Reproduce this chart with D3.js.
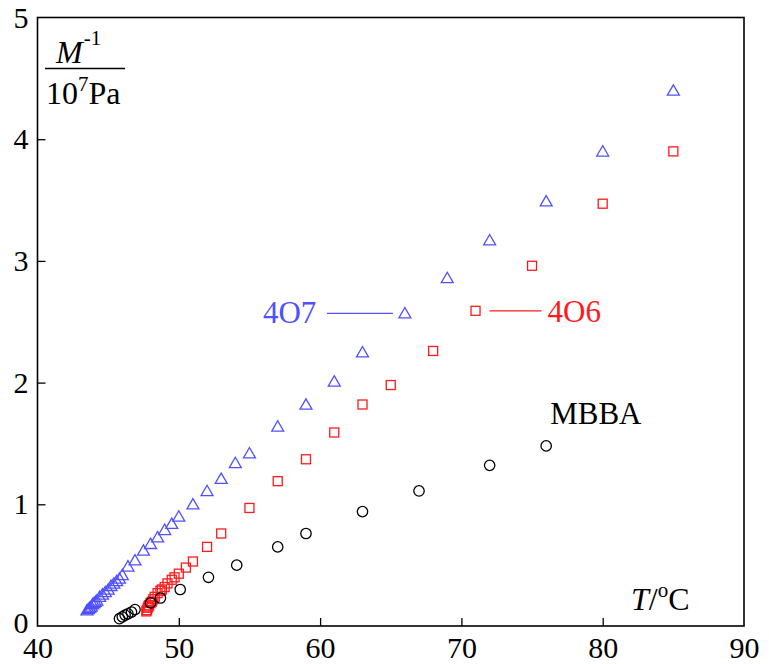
<!DOCTYPE html>
<html>
<head>
<meta charset="utf-8">
<script src="https://cdn.jsdelivr.net/npm/d3@7"></script>
<style>
  html, body { margin: 0; padding: 0; background: #fff; }
  svg { display: block; }
  svg text { font-family: "Liberation Serif", Tinos, "Times New Roman", Times, "DejaVu Serif", "Noto Serif", serif !important; }
</style>
</head>
<body>
<svg id="chart" width="769" height="664"></svg>
<script>
// Inverse modulus M^-1 (10^7 Pa) versus temperature T (°C)
const xTicks = [40, 50, 60, 70, 80, 90];
const yTicks = [0, 1, 2, 3, 4, 5];

// 4O7 (triangles)
const t4O7 = [43.5, 43.6, 43.7, 43.8, 43.9, 44.0, 44.1, 44.2, 44.4, 44.6, 44.8, 45.0, 45.2, 45.4, 45.6, 45.8,
              46.0, 46.4, 46.9, 47.5, 48.0, 48.5, 49.0, 49.5, 50.0, 51, 52, 53, 54, 55, 57, 59, 61, 63, 66, 69, 72, 76, 80, 85];
const m4O7 = [0.12, 0.13, 0.14, 0.15, 0.17, 0.18, 0.19, 0.20, 0.23, 0.25, 0.27, 0.29, 0.32, 0.34, 0.36, 0.38,
              0.41, 0.48, 0.53, 0.61, 0.665, 0.72, 0.78, 0.83, 0.89, 0.99, 1.10, 1.20, 1.33, 1.41, 1.63, 1.81, 2.00, 2.24, 2.56, 2.85, 3.16, 3.48, 3.89, 4.39];

// 4O6 (squares)
const t4O6 = [47.7, 47.75, 47.8, 47.85, 47.9, 48.0, 48.1, 48.2, 48.3, 48.5, 48.7, 48.8, 49.0, 49.2, 49.5, 49.7,
              50.0, 50.5, 51, 52, 53, 55, 57, 59, 61, 63, 65, 68, 71, 75, 80, 85];
const m4O6 = [0.12, 0.13, 0.15, 0.16, 0.17, 0.19, 0.20, 0.22, 0.24, 0.27, 0.29, 0.30, 0.32, 0.35, 0.38, 0.40,
              0.43, 0.48, 0.53, 0.65, 0.76, 0.97, 1.19, 1.37, 1.59, 1.82, 1.98, 2.26, 2.59, 2.96, 3.47, 3.90];

// MBBA (circles)
const tMBBA = [45.8, 46.0, 46.2, 46.4, 46.65, 46.9, 48.0, 48.7, 50.1, 52.1, 54.1, 57, 59, 63, 67, 72, 76];
const mMBBA = [0.06, 0.075, 0.09, 0.10, 0.115, 0.135, 0.19, 0.23, 0.30, 0.40, 0.50, 0.65, 0.76, 0.94, 1.11, 1.32, 1.48];

const blue = "#5050ff", red = "#ff1a1a", black = "#000";
const serif = "'Liberation Serif', Tinos, 'Times New Roman', Times, 'DejaVu Serif', 'Noto Serif', serif";

const svg = d3.select("#chart").attr("font-family", serif);
const plotLeft = 37.5, plotRight = 744, plotTop = 17.5, plotBottom = 626;

const x = d3.scaleLinear().domain([40, 90]).range([plotLeft, plotRight]);
const y = d3.scaleLinear().domain([0, 5]).range([plotBottom, plotTop]);

// frame
svg.append("rect")
  .attr("x", plotLeft).attr("y", plotTop)
  .attr("width", plotRight - plotLeft).attr("height", plotBottom - plotTop)
  .attr("fill", "none").attr("stroke", "#000").attr("stroke-width", 1.6);

// axes with inward ticks
const xAxis = d3.axisBottom(x).tickValues(xTicks).tickSize(-8).tickPadding(14).tickFormat(d3.format("d"));
const yAxis = d3.axisLeft(y).tickValues(yTicks).tickSize(-8).tickPadding(10).tickFormat(d3.format("d"));

const gx = svg.append("g").attr("transform", `translate(0,${plotBottom})`).call(xAxis);
const gy = svg.append("g").attr("transform", `translate(${plotLeft},0)`).call(yAxis);
[gx, gy].forEach(g => {
  g.attr("font-family", serif).attr("font-size", 30);
  g.select(".domain").remove();
  g.selectAll(".tick line").attr("stroke", "#000").attr("stroke-width", 1.3);
  g.selectAll(".tick text").attr("fill", "#000");
});
gx.selectAll(".tick text").attr("dy", "0.71em").attr("y", 11);
gx.selectAll(".tick").filter(d => d === 40 || d === 90).select("line").remove();
gy.selectAll(".tick").filter(d => d === 0 || d === 5).select("line").remove();
gy.selectAll(".tick text").attr("x", -9);
gy.selectAll(".tick").filter(d => d === 0).select("text").attr("dy", "0.2em");

// markers
const g = svg.append("g").attr("fill", "none").attr("stroke-width", 1.3);

const triPath = d3.symbol().type(d3.symbolTriangle).size(62)();
g.selectAll(".tri").data(d3.zip(t4O7, m4O7)).join("path")
  .attr("d", triPath)
  .attr("transform", d => `translate(${x(d[0])},${y(d[1])})`)
  .attr("stroke", blue).attr("fill", "none");

g.selectAll(".sq").data(d3.zip(t4O6, m4O6)).join("rect")
  .attr("x", d => x(d[0]) - 4.5).attr("y", d => y(d[1]) - 4.5)
  .attr("width", 9).attr("height", 9)
  .attr("stroke", red).attr("fill", "none");

g.selectAll(".circ").data(d3.zip(tMBBA, mMBBA)).join("circle")
  .attr("cx", d => x(d[0])).attr("cy", d => y(d[1])).attr("r", 5.2)
  .attr("stroke", black).attr("fill", "none");

// series labels with leader lines
svg.append("text").attr("x", x(66) - 142).attr("y", y(2.56) + 9)
  .attr("fill", blue).attr("font-size", 31).text("4O7");
svg.append("line")
  .attr("x1", x(66) - 78).attr("x2", x(66) - 12)
  .attr("y1", y(2.56) - 1).attr("y2", y(2.56) - 1)
  .attr("stroke", blue).attr("stroke-width", 1.2);

svg.append("text").attr("x", x(71) + 72).attr("y", y(2.59) + 11)
  .attr("fill", red).attr("font-size", 31).text("4O6");
svg.append("line")
  .attr("x1", x(71) + 14).attr("x2", x(71) + 66)
  .attr("y1", y(2.59)).attr("y2", y(2.59))
  .attr("stroke", red).attr("stroke-width", 1.2);

svg.append("text").attr("x", x(76) + 4).attr("y", y(1.48) - 22)
  .attr("fill", black).attr("font-size", 31).text("MBBA");

// y-axis title as a fraction
const yt = svg.append("g");
const num = yt.append("text").attr("x", 56).attr("y", 63).attr("font-size", 32);
num.append("tspan").attr("font-style", "italic").text("M");
num.append("tspan").attr("dx", 1).attr("dy", -18).attr("font-size", 21).text("-1");
yt.append("line").attr("x1", 45).attr("x2", 125).attr("y1", 68.5).attr("y2", 68.5)
  .attr("stroke", "#000").attr("stroke-width", 1.6);
const den = yt.append("text").attr("x", 46).attr("y", 104).attr("font-size", 32);
den.append("tspan").text("10");
den.append("tspan").attr("dy", -13).attr("font-size", 21).text("7");
den.append("tspan").attr("dy", 13).text("Pa");

// x-axis title
const xt = svg.append("text").attr("x", 631).attr("y", 610).attr("font-size", 32);
xt.append("tspan").attr("font-style", "italic").text("T");
xt.append("tspan").text("/");
xt.append("tspan").attr("dy", -13).attr("font-size", 21).text("o");
xt.append("tspan").attr("dy", 13).text("C");
</script>
</body>
</html>
